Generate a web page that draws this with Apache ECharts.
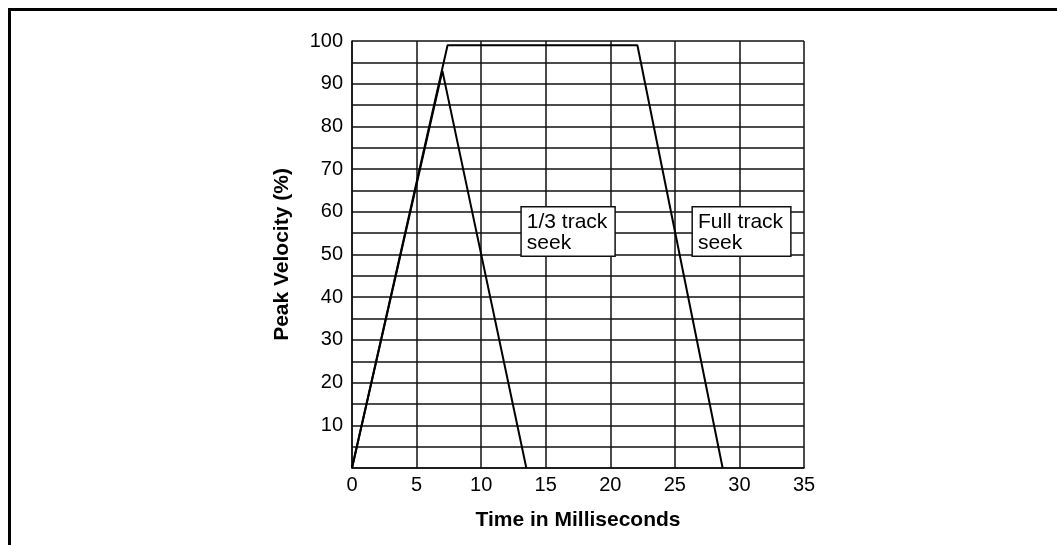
<!DOCTYPE html>
<html>
<head>
<meta charset="utf-8">
<script src="https://cdn.jsdelivr.net/npm/echarts@6/dist/echarts.min.js"></script>
<style>
  html, body { margin: 0; padding: 0; background: #fff; }
  #container { width: 1057px; height: 545px; }
</style>
</head>
<body>
<div id="container"></div>
<script>
var xTicks = [0, 5, 10, 15, 20, 25, 30, 35];
var yTicks = [10, 20, 30, 40, 50, 60, 70, 80, 90, 100];

// time (ms), peak velocity (%)
var fullTrack = [[0, 0], [7.4, 99], [22.1, 99], [28.7, 0]];
var thirdTrack = [[0, 0], [7.0, 93], [13.5, 0]];

var labels = [
    {name: '1/3 track\nseek', coord: [13.15, 61]},
    {name: 'Full track\nseek', coord: [26.4, 61]}
];

var dom = document.getElementById('container');
var myChart = echarts.init(dom);
var font = 'Liberation Sans, Arial, Helvetica, sans-serif';
var gridLine = {show: true, lineStyle: {color: '#111', width: 1.5}};

option = {
    animation: false,
    backgroundColor: '#fff',
    grid: {left: 352, right: 253, top: 41, bottom: 77},
    xAxis: {
        type: 'value',
        min: xTicks[0],
        max: xTicks[xTicks.length - 1],
        interval: 5,
        name: 'Time in Milliseconds',
        nameLocation: 'middle',
        nameGap: 42,
        nameTextStyle: {color: '#000', fontFamily: font, fontSize: 21, fontWeight: 'bold'},
        axisLine: {show: true, onZero: false, lineStyle: {color: '#111', width: 1.5}},
        axisTick: {show: false},
        axisLabel: {color: '#000', fontFamily: font, fontSize: 20, margin: 7},
        splitLine: gridLine
    },
    yAxis: {
        type: 'value',
        min: 0,
        max: yTicks[yTicks.length - 1],
        interval: 5,
        name: 'Peak Velocity (%)',
        nameLocation: 'middle',
        nameGap: 59,
        nameRotate: 90,
        nameTextStyle: {color: '#000', fontFamily: font, fontSize: 21, fontWeight: 'bold'},
        axisLine: {show: true, onZero: false, lineStyle: {color: '#111', width: 1.5}},
        axisTick: {show: false},
        axisLabel: {
            color: '#000', fontFamily: font, fontSize: 20, margin: 9,
            formatter: function (v) { return yTicks.indexOf(v) >= 0 ? String(v) : ''; }
        },
        splitLine: gridLine
    },
    series: [
        {
            name: 'Full track seek',
            type: 'line',
            symbol: 'none',
            lineStyle: {color: '#000', width: 2},
            data: fullTrack,
            markPoint: {
                symbol: 'rect',
                symbolSize: 0,
                label: {
                    show: true,
                    position: [0, 0],
                    align: 'left',
                    verticalAlign: 'top',
                    formatter: '{b}',
                    color: '#000',
                    fontFamily: font,
                    fontSize: 21,
                    lineHeight: 21,
                    backgroundColor: '#fff',
                    borderColor: '#111',
                    borderWidth: 1.5,
                    padding: [4, 7, 2, 5]
                },
                data: labels
            }
        },
        {
            name: '1/3 track seek',
            type: 'line',
            symbol: 'none',
            lineStyle: {color: '#000', width: 2},
            data: thirdTrack
        }
    ],
    graphic: [
        {type: 'rect', left: 8, top: 8, shape: {width: 3, height: 537}, style: {fill: '#000'}},
        {type: 'rect', left: 8, top: 8, shape: {width: 1049, height: 3}, style: {fill: '#000'}}
    ]
};

if (option && typeof option === 'object') {
    myChart.setOption(option, true);
}
</script>
</body>
</html>
